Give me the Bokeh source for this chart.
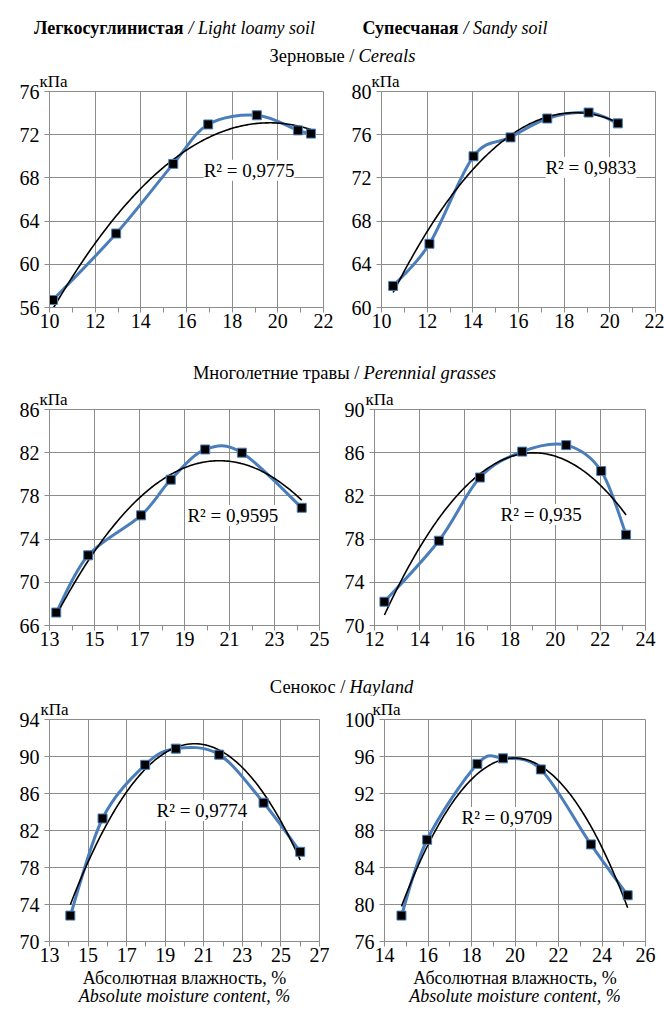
import numpy as np
from bokeh.plotting import figure
from bokeh.models import Range1d, FixedTicker, Label, ColumnDataSource, LinearAxis
from bokeh.layouts import column, row
from bokeh.core.properties import value
from bokeh.embed import file_html
from bokeh.resources import INLINE

# ---------------- data ----------------
soil_bold = ["Легкосуглинистая", "Супесчаная"]
soil_italic = ["/ Light loamy soil", "/ Sandy soil"]
crop_roman = ["Зерновые /", "Многолетние травы /", "Сенокос /"]
crop_italic = ["Cereals", "Perennial grasses", "Hayland"]
y_unit = "кПа"
x_title_ru = "Абсолютная влажность, %"
x_title_en = "Absolute moisture content, %"

# Cereals
x_loamy_cereals = [10.15, 12.92, 15.42, 16.95, 19.08, 20.88, 21.45]
y_loamy_cereals = [56.7, 62.85, 69.3, 72.95, 73.8, 72.4, 72.1]
x_sandy_cereals = [10.51, 12.10, 14.03, 15.65, 17.26, 19.07, 20.35]
y_sandy_cereals = [62.0, 65.9, 74.0, 75.75, 77.5, 78.05, 77.05]
# Perennial grasses
x_loamy_grass = [13.3, 14.72, 17.07, 18.39, 19.92, 21.55, 24.21]
y_loamy_grass = [67.2, 72.5, 76.2, 79.5, 82.3, 82.0, 76.9]
x_sandy_grass = [12.44, 14.85, 16.67, 18.54, 20.49, 22.04, 23.14]
y_sandy_grass = [72.2, 77.85, 83.7, 86.1, 86.7, 84.3, 78.4]
# Hayland
x_loamy_hay = [14.08, 15.75, 17.96, 19.55, 21.8, 24.1, 26.0]
y_loamy_hay = [72.8, 83.3, 89.1, 90.85, 90.2, 85.0, 79.7]
x_sandy_hay = [14.78, 15.96, 18.27, 19.45, 21.19, 23.49, 25.18]
y_sandy_hay = [78.8, 87.0, 95.2, 95.8, 94.6, 86.5, 81.0]

r2_texts = ["R² = 0,9775", "R² = 0,9833", "R² = 0,9595", "R² = 0,935",
            "R² = 0,9774", "R² = 0,9709"]

x_ranges = [(10, 22), (10, 22), (13, 25), (12, 24), (13, 27), (14, 26)]
y_ranges = [(56, 76), (60, 80), (66, 86), (70, 90), (70, 94), (76, 100)]
x_step = 2
y_step = 4

# ---------------- style ----------------
FONT = "Liberation Serif"
GRID = "#8C8C8C"
BLUE = "#4A7EBB"
TOTAL_W = 664


def strip(h):
    f = figure(width=TOTAL_W, height=h, x_range=Range1d(0, TOTAL_W), y_range=Range1d(h, 0),
               x_axis_location=None, y_axis_location=None, min_border=0,
               output_backend="svg", toolbar_location=None)
    f.outline_line_color = None
    f.grid.visible = False
    return f


def put_text(f, x, y, t, style, align, size="18.5px"):
    f.text(x=[x], y=[y], text=[t], text_font=value(FONT), text_font_size=size,
           text_font_style=style, text_align=align, text_baseline="middle",
           text_color="black")


def bezier_source(xs, ys):
    x = np.asarray(xs, float)
    y = np.asarray(ys, float)
    n = len(x)
    xp = np.concatenate([[x[0]], x, [x[-1]]])
    yp = np.concatenate([[y[0]], y, [y[-1]]])
    x0, x1 = x[:-1], x[1:]
    y0, y1 = y[:-1], y[1:]
    cx0 = x0 + (x1 - xp[0:n - 1]) / 6.0
    cy0 = y0 + (y1 - yp[0:n - 1]) / 6.0
    cx1 = x1 - (xp[3:n + 2] - x0) / 6.0
    cy1 = y1 - (yp[3:n + 2] - y0) / 6.0
    return ColumnDataSource(dict(x0=x0, y0=y0, x1=x1, y1=y1,
                                 cx0=cx0, cy0=cy0, cx1=cx1, cy1=cy1))


def make_panel(xs, ys, xr, yr, r2, r2pos, fw, fh, bl, br, bt, bb, kpa_dx, footer=False):
    p = figure(frame_width=fw, frame_height=fh, min_border_left=bl, min_border_right=br,
               min_border_top=bt, min_border_bottom=bb,
               x_range=Range1d(*xr), y_range=Range1d(*yr), title=y_unit,
               output_backend="svg", toolbar_location=None)
    p.title.align = "left"
    p.title.offset = kpa_dx
    p.title.standoff = 2
    p.title.text_font = FONT
    p.title.text_font_size = "17px"
    p.title.text_font_style = "normal"
    p.title.text_color = "black"

    p.outline_line_color = GRID
    p.outline_line_width = 1
    xt = [int(v) for v in np.arange(xr[0], xr[1] + 0.01, x_step)]
    xm = [int(v) for v in np.arange(xr[0] + 1, xr[1], x_step)]
    yt = [int(v) for v in np.arange(yr[0], yr[1] + 0.01, y_step)]
    xax = p.xaxis[0]
    yax = p.yaxis[0]
    xax.ticker = FixedTicker(ticks=xt, minor_ticks=xm)
    yax.ticker = FixedTicker(ticks=yt)
    for ax in (xax, yax):
        ax.axis_line_color = GRID
        ax.major_tick_line_color = GRID
        ax.major_tick_out = 5
        ax.major_tick_in = 0
        ax.major_label_text_font = FONT
        ax.major_label_text_font_size = "20px"
        ax.major_label_text_color = "black"
    xax.minor_tick_line_color = GRID
    xax.minor_tick_out = 5
    xax.minor_tick_in = 0
    yax.minor_tick_line_color = None
    xax.major_label_standoff = 1
    yax.major_label_standoff = 5
    p.grid.grid_line_color = GRID
    p.grid.grid_line_width = 1

    # smoothed data line
    p.bezier(x0="x0", y0="y0", x1="x1", y1="y1", cx0="cx0", cy0="cy0", cx1="cx1", cy1="cy1",
             source=bezier_source(xs, ys), line_color=BLUE, line_width=3, line_cap="round")
    # polynomial trend line (order 2) fitted to the data
    coef = np.polyfit(xs, ys, 2)
    tx = np.linspace(min(xs), max(xs), 150)
    p.line(tx, np.polyval(coef, tx), line_color="black", line_width=1.6)
    # markers
    p.scatter(xs, ys, marker="square", size=9, fill_color="black", line_color=BLUE, line_width=1)

    p.add_layout(Label(x=r2pos[0], y=r2pos[1], text=r2, text_font=FONT, text_font_size="19px",
                       text_baseline="middle", text_align="left", text_color="black",
                       background_fill_color="white"))
    if footer:
        xax.axis_label = x_title_ru
        xax.axis_label_text_font = FONT
        xax.axis_label_text_font_size = "18px"
        xax.axis_label_text_font_style = "normal"
        xax.axis_label_text_color = "black"
        xax.axis_label_standoff = 3
        ax2 = LinearAxis(axis_label=x_title_en, ticker=FixedTicker(ticks=[]),
                         axis_line_color=None, major_tick_line_color=None,
                         minor_tick_line_color=None, major_tick_out=0, minor_tick_out=0,
                         major_tick_in=0, minor_tick_in=0, major_label_standoff=0,
                         axis_label_standoff=-5, axis_label_text_font=FONT,
                         axis_label_text_font_size="18px", axis_label_text_font_style="italic",
                         axis_label_text_color="black")
        p.add_layout(ax2, "below")
    return p


# header strip A
hA = strip(68)
put_text(hA, 183, 27, soil_bold[0], "bold", "right", "18px")
put_text(hA, 188, 27, soil_italic[0], "italic", "left", "18px")
put_text(hA, 458, 27, soil_bold[1], "bold", "right", "18px")
put_text(hA, 463, 27, soil_italic[1], "italic", "left", "18px")
put_text(hA, 354, 55, crop_roman[0], "normal", "right")
put_text(hA, 358, 55, crop_italic[0], "italic", "left")

p1 = make_panel(x_loamy_cereals, y_loamy_cereals, x_ranges[0], y_ranges[0], r2_texts[0], (16.75, 68.7),
                274, 216, 49, 17, 23, 38, -10)
p2 = make_panel(x_sandy_cereals, y_sandy_cereals, x_ranges[1], y_ranges[1], r2_texts[1], (17.18, 72.96),
                274, 216, 41, 9, 23, 38, -10)

hC = strip(38)
put_text(hC, 359, 27, crop_roman[1], "normal", "right")
put_text(hC, 363, 27, crop_italic[1], "italic", "left")

p3 = make_panel(x_loamy_grass, y_loamy_grass, x_ranges[2], y_ranges[2], r2_texts[2], (19.13, 76.19),
                270, 216, 49, 21, 26, 35, -10)
p4 = make_panel(x_sandy_grass, y_sandy_grass, x_ranges[3], y_ranges[3], r2_texts[3], (17.58, 80.28),
                271, 216, 34, 19, 25, 36, -9)

hE = strip(36)
put_text(hE, 345, 26, crop_roman[2], "normal", "right")
put_text(hE, 349, 26, crop_italic[2], "italic", "left")

p5 = make_panel(x_loamy_hay, y_loamy_hay, x_ranges[4], y_ranges[4], r2_texts[4], (18.55, 84.16),
                270, 222, 49, 21, 23, 71, -9, footer=True)
p6 = make_panel(x_sandy_hay, y_sandy_hay, x_ranges[5], y_ranges[5], r2_texts[5], (17.54, 89.4),
                261, 222, 44, 19, 23, 71, -12, footer=True)

layout = column(hA, row(p1, p2), hC, row(p3, p4), hE, row(p5, p6))

with open("out.html", "w") as fh:
    fh.write(file_html(layout, INLINE))
